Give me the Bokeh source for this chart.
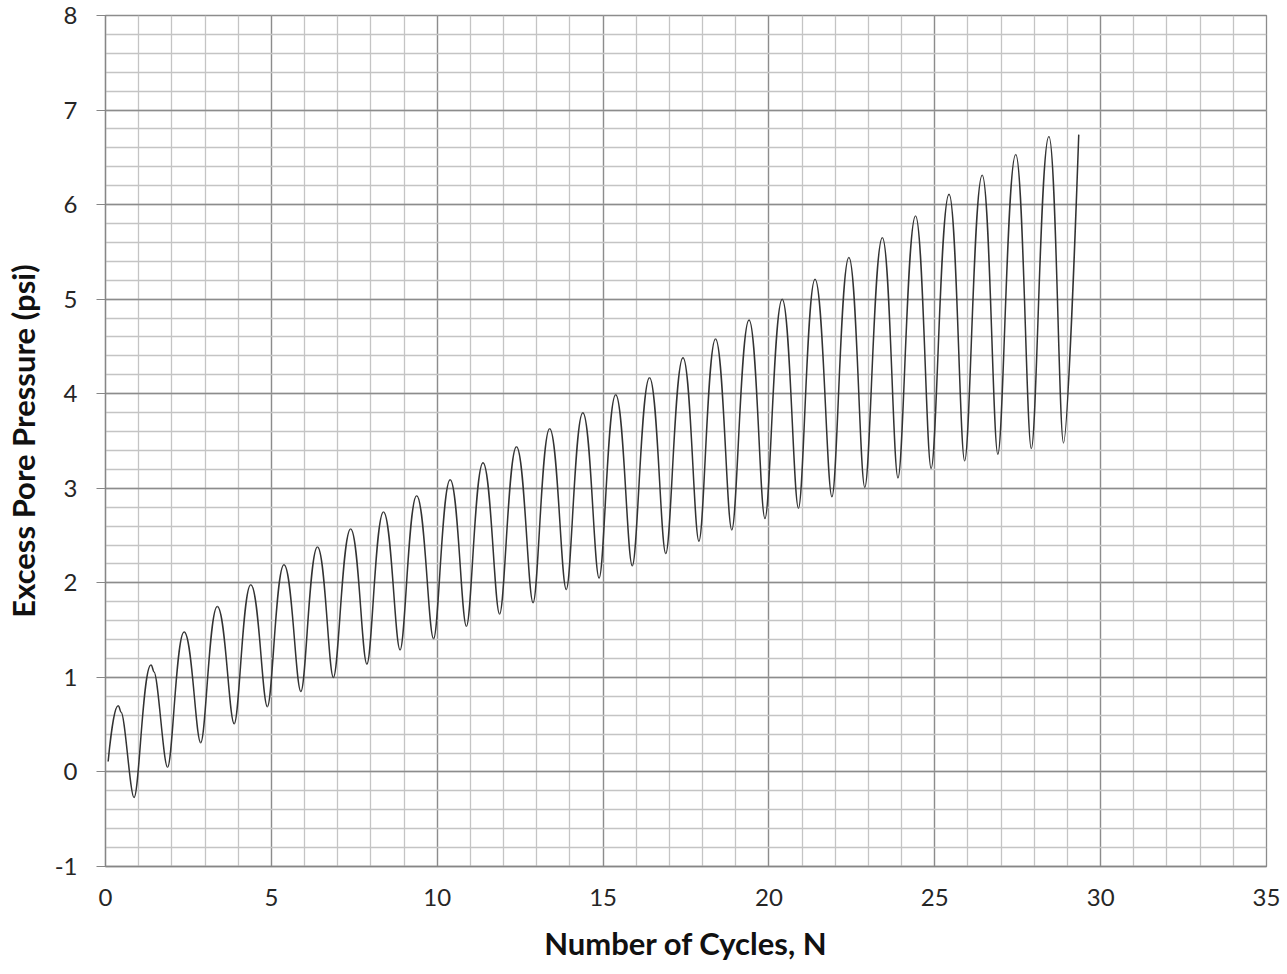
import numpy as np
from bokeh.plotting import figure
from bokeh.models import Range1d, SingleIntervalTicker, PrintfTickFormatter
from bokeh.embed import file_html
from bokeh.resources import INLINE

cycles = [0.08, 0.38, 0.47, 0.86, 1.37, 1.46, 1.87, 2.37, 2.87, 3.37, 3.88, 4.38, 4.88,
          5.38, 5.89, 6.39, 6.87, 7.39, 7.88, 8.38, 8.88, 9.38, 9.89, 10.39, 10.88,
          11.38, 11.88, 12.39, 12.89, 13.39, 13.89, 14.39, 14.88, 15.38, 15.88, 16.40,
          16.89, 17.41, 17.89, 18.39, 18.88, 19.40, 19.88, 20.40, 20.89, 21.39, 21.90,
          22.41, 22.89, 23.42, 23.89, 24.42, 24.89, 25.43, 25.90, 26.43, 26.90, 27.44,
          27.91, 28.44, 28.88, 29.34]
pressure = [0.11, 0.70, 0.63, -0.27, 1.13, 1.06, 0.05, 1.48, 0.31, 1.75, 0.51, 1.98, 0.69,
            2.19, 0.85, 2.38, 1.00, 2.57, 1.14, 2.75, 1.29, 2.92, 1.41, 3.09, 1.54,
            3.27, 1.67, 3.44, 1.79, 3.63, 1.93, 3.80, 2.05, 3.99, 2.18, 4.17,
            2.31, 4.38, 2.44, 4.58, 2.56, 4.78, 2.68, 5.00, 2.79, 5.21, 2.91,
            5.44, 3.01, 5.65, 3.11, 5.88, 3.21, 6.11, 3.29, 6.31, 3.36, 6.53,
            3.42, 6.72, 3.48, 6.74]

x_ticks_interval = 5
y_ticks_interval = 1

xs = np.array(cycles)
ys = np.array(pressure)
n = len(xs)

# handle lengths for smooth curve segments (horizontal tangents at turning points)
def handle(i):
    if i == 0 or i == n - 1:
        return 0.0
    is_peak = ys[i] > ys[i - 1] and ys[i] > ys[i + 1]
    return 0.48 if is_peak else 0.30

x0 = xs[:-1]; x1 = xs[1:]; y0 = ys[:-1]; y1 = ys[1:]
dx = x1 - x0
k0 = np.array([handle(i) for i in range(n - 1)])
k1 = np.array([handle(i + 1) for i in range(n - 1)])
cx0 = x0 + k0 * dx
cy0 = y0.copy()
cx1 = x1 - k1 * dx
cy1 = y1.copy()

p = figure(width=1280, height=972, output_backend="svg", toolbar_location=None,
           x_range=Range1d(0, 35), y_range=Range1d(-1, 8),
           min_border_left=105, min_border_right=14, min_border_top=15, min_border_bottom=106,
           background_fill_color="white", border_fill_color="white")

p.bezier(x0=x0, y0=y0, x1=x1, y1=y1, cx0=cx0, cy0=cy0, cx1=cx1, cy1=cy1,
         line_color="#333333", line_width=1.5)

p.xaxis.ticker = SingleIntervalTicker(interval=x_ticks_interval, num_minor_ticks=5)
p.yaxis.ticker = SingleIntervalTicker(interval=y_ticks_interval, num_minor_ticks=5)
p.xaxis.formatter = PrintfTickFormatter(format="%d")
p.yaxis.formatter = PrintfTickFormatter(format="%d")

major = "#8c8c8c"
minor = "#c4c4c4"
for g in (p.xgrid, p.ygrid):
    g.grid_line_color = major
    g.grid_line_width = 1.3
    g.minor_grid_line_color = minor
    g.minor_grid_line_width = 1.3

p.outline_line_color = major
p.outline_line_width = 1.3

font = "Lato"
for ax in (p.xaxis, p.yaxis):
    ax.axis_line_color = "#868686"
    ax.axis_line_width = 1.3
    ax.minor_tick_in = 0
    ax.minor_tick_out = 0
    ax.major_tick_in = 0
    ax.major_label_text_font = font
    ax.major_label_text_font_size = "24px"
    ax.major_label_text_color = "#262626"
    ax.axis_label_text_font = font
    ax.axis_label_text_font_size = "31px"
    ax.axis_label_text_font_style = "bold"
    ax.axis_label_text_color = "#111111"

p.xaxis.major_tick_out = 0
p.xaxis.major_label_standoff = 22
p.xaxis.axis_label = "Number of Cycles, N"
p.xaxis.axis_label_standoff = 15

p.yaxis.major_tick_out = 9
p.yaxis.major_tick_line_color = "#868686"
p.yaxis.major_label_standoff = 19
p.yaxis.axis_label = "Excess Pore Pressure (psi)"
p.yaxis.axis_label_standoff = 10

open("out.html", "w").write(file_html(p, INLINE))
